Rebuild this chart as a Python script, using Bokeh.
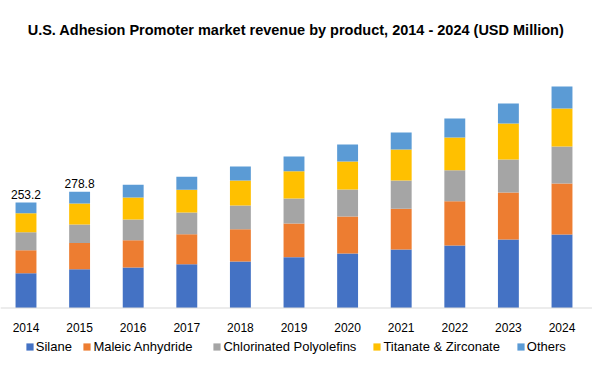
from bokeh.plotting import figure
from bokeh.models import ColumnDataSource, Legend, LegendItem, Label, Range1d, Span
from bokeh.core.properties import value
from bokeh.embed import file_html
from bokeh.resources import INLINE

years = ["2014", "2015", "2016", "2017", "2018", "2019", "2020", "2021", "2022", "2023", "2024"]
silane = [83.5, 93.0, 97.0, 105.0, 111.5, 122.0, 130.8, 140.4, 150.0, 164.4, 176.4]
maleic = [55.2, 63.2, 65.4, 72.0, 77.5, 80.8, 88.8, 97.6, 106.4, 112.8, 122.4]
chlorinated = [43.2, 44.5, 50.3, 52.0, 56.8, 60.0, 64.8, 68.0, 74.4, 79.2, 88.8]
titanate = [45.6, 50.3, 52.7, 55.0, 60.0, 65.5, 67.2, 74.4, 78.4, 86.4, 91.2]
others = [25.7, 27.8, 30.4, 31.0, 33.6, 35.2, 40.8, 40.8, 45.6, 48.0, 52.8]
labeled_years = ["2014", "2015"]

series = ["Silane", "Maleic Anhydride", "Chlorinated Polyolefins", "Titanate & Zirconate", "Others"]
colors = ["#4472C4", "#ED7D31", "#A5A5A5", "#FFC000", "#5B9BD5"]
keys = ["silane", "maleic", "chlorinated", "titanate", "others"]

idx = list(range(len(years)))
src = ColumnDataSource(dict(x=idx, year=years, zero=[0] * len(years), silane=silane, maleic=maleic,
                            chlorinated=chlorinated, titanate=titanate, others=others))

FONT = "Liberation Sans"
FW, FH = 592, 362

p = figure(frame_width=FW, frame_height=FH, output_backend="svg", toolbar_location=None,
           x_range=Range1d(-0.4757, 10.569), y_range=Range1d(-130.8, 738.0),
           x_axis_location=None, y_axis_location=None,
           min_border_left=0, min_border_right=0, min_border_top=0, min_border_bottom=0,
           outline_line_color=None)
p.xgrid.grid_line_color = None
p.ygrid.grid_line_color = None

rs = p.vbar_stack(keys, x="x", width=0.39, color=colors, source=src, line_color=None)

# baseline (category axis line)
p.add_layout(Span(location=0, dimension="width", line_color="#D9D9D9", line_width=1))

# category labels
p.text(x="x", y="zero", text="year", source=src, text_align="center", text_baseline="alphabetic",
       y_offset=19, text_font=value(FONT), text_font_size="12px", text_color="#000000")

# total labels
totals = [round(a + b + c + d + e, 1) for a, b, c, d, e in zip(silane, maleic, chlorinated, titanate, others)]
lx = [years.index(y) for y in labeled_years]
ly = [totals[i] for i in lx]
lt = ["%.1f" % v for v in ly]
p.text(x=lx, y=ly, text=lt, text_align="center", text_baseline="alphabetic", y_offset=-8,
       text_font=value(FONT), text_font_size="12px", text_color="#000000")

title = Label(x=5.037, y=667.7, text="U.S. Adhesion Promoter market revenue by product, 2014 - 2024 (USD Million)",
              text_align="center", text_baseline="alphabetic", text_font=FONT, text_font_size="14.5px",
              text_font_style="bold", text_color="#000000")
p.add_layout(title)

legend_x = [24.8, 82.4, 212.4, 372.4, 515.8]
for s, r, lxp in zip(series, rs, legend_x):
    lg = Legend(items=[LegendItem(label=s, renderers=[r])], location=(lxp, 8),
                label_text_font=FONT, label_text_font_size="13px", label_text_color="#000000",
                glyph_width=9, glyph_height=9, label_height=14, label_standoff=2,
                padding=0, margin=0, border_line_color=None, background_fill_alpha=0)
    p.add_layout(lg)

open("out.html", "w").write(file_html(p, INLINE))
